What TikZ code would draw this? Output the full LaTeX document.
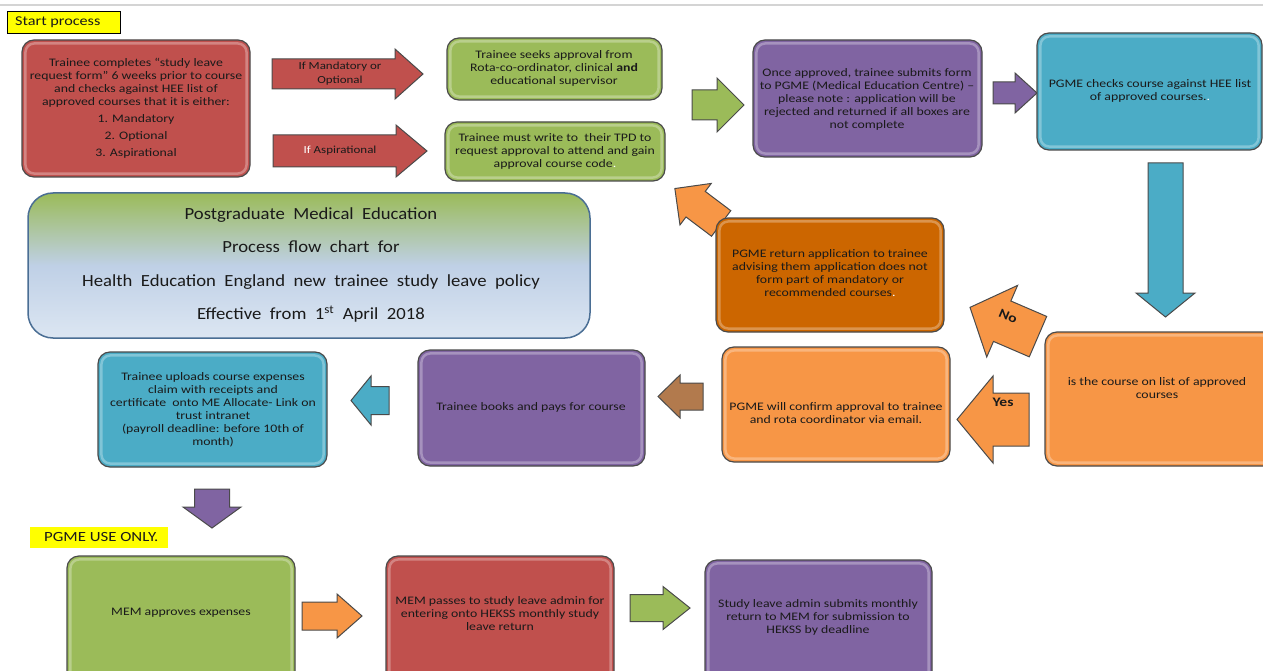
\documentclass[tikz,border=0pt]{standalone}
\usepackage{fontspec}
\setmainfont{Carlito}[FakeStretch=1.2]
\newfontfamily\titlefont{Carlito}[FakeStretch=1.1,WordSpace=2.0]
\definecolor{cRed}{HTML}{C0504D}
\definecolor{cGreen}{HTML}{9BBB59}
\definecolor{cPurple}{HTML}{8064A2}
\definecolor{cBlue}{HTML}{4BACC6}
\definecolor{cOrange}{HTML}{F79646}
\definecolor{cDark}{HTML}{CC6600}
\definecolor{cBrown}{HTML}{B27A4D}
\definecolor{cEdge}{HTML}{4A4A4A}
\definecolor{cTitleEdge}{HTML}{4A6E94}
\definecolor{cTitleMid}{HTML}{BFD0E6}
\definecolor{cTitleBot}{HTML}{DCE6F2}
\definecolor{cLine}{HTML}{D4D4D4}
\definecolor{cYellow}{HTML}{FFFF00}
\definecolor{cText}{HTML}{1A1A1A}
\newcommand{\blockarr}[8]{%
  \draw[arr, fill=#1, shift={(#2,#3)}, rotate=#4]
    (-#5/2,-#7/2) -- (#5/2-#8,-#7/2) -- (#5/2-#8,-#6/2) -- (#5/2,0)
    -- (#5/2-#8,#6/2) -- (#5/2-#8,#7/2) -- (-#5/2,#7/2) -- cycle;}
\newcommand{\mybox}[6]{%
  \node[box, fill=#2, minimum width=#5pt, minimum height=#6pt] (#1) at (#3,#4) {};
  \draw[hl] ([xshift=4pt,yshift=-4pt]#1.north west) rectangle ([xshift=-4pt,yshift=4pt]#1.south east);}
\tikzset{
  box/.style={draw=cEdge, line width=1.2pt, rounded corners=12pt, inner sep=0pt},
  hl/.style={draw=white, opacity=0.3, line width=2.5pt, rounded corners=9pt},
  arr/.style={draw=cEdge, line width=1pt, line join=miter},
  txt/.style={align=center, font=\fontsize{11.5}{13}\selectfont, text=cText, inner sep=0pt},
  lbl/.style={align=center, font=\fontsize{10.8}{14}\selectfont, text=cText, inner sep=0pt},
  yn/.style={font=\fontsize{13}{14}\selectfont\bfseries, text=cText, inner sep=0pt},
  tag/.style={fill=cYellow, inner sep=0pt}
}
\begin{document}
\begin{tikzpicture}[x=1pt,y=-1pt]
\useasboundingbox (0,0) rectangle (1263,671);
\clip (0,0) rectangle (1263,671);
\fill[white] (0,0) rectangle (1263,671);
\coordinate (la) at (0,5);
\coordinate (lb) at (1263,5);
\draw[cLine, line width=2pt] (la) -- (lb);

% labels
\node[tag, draw=black, line width=0.8pt, minimum width=113pt, minimum height=22pt] (start) at (63.5,22) {};
\node[font=\fontsize{13.5}{15}\selectfont, text=cText, anchor=west, inner sep=0pt] (startt) at (15,22) {Start process};
\node[tag, minimum width=138pt, minimum height=21pt] (use) at (99,537.5) {};
\node[font=\fontsize{14}{15}\selectfont, text=cText, anchor=west, inner sep=0pt] (uset) at (44,537) {PGME USE ONLY.};

% block arrows
\blockarr{cRed}{347.5}{74}{0}{151}{50}{30}{28}
\blockarr{cRed}{350}{151}{0}{154}{52}{32}{31}
\blockarr{cGreen}{718}{105}{0}{52}{54}{30}{27}
\blockarr{cPurple}{1015}{93}{0}{44}{40}{22}{22}
\blockarr{cBlue}{1165.5}{240}{-90}{154}{59}{35}{24}
\blockarr{cOrange}{698}{206}{143}{58}{52}{32}{26}
\blockarr{cOrange}{1004}{322}{156.7}{74}{78}{44}{35}
\blockarr{cOrange}{993}{419.5}{180}{72}{87}{53}{36}
\blockarr{cBrown}{680.5}{396.5}{180}{45}{43}{27}{22}
\blockarr{cBlue}{370}{400.5}{180}{38}{49}{28}{20}
\blockarr{cPurple}{212}{508.5}{-90}{39}{58}{35}{21}
\blockarr{cOrange}{332}{616}{0}{60}{44}{28}{25}
\blockarr{cGreen}{660}{608}{0}{60}{43}{27}{27}

\node[lbl] (a1) at (340,73.5) {If Mandatory or\\Optional};
\node[lbl] (a2) at (340,151) {\textcolor{white}{If} Aspirational};
\node[yn, rotate=-23] (no) at (1008,316) {No};
\node[yn] (yes) at (1003,402) {Yes};

% boxes
\mybox{r1}{cRed}{136}{108.5}{228}{137}
\mybox{g1}{cGreen}{554.5}{69}{215}{62}
\mybox{g2}{cGreen}{555}{151.5}{220}{59}
\mybox{p1}{cPurple}{867.5}{98.5}{229}{117}
\mybox{b1}{cBlue}{1149.5}{91.5}{225}{117}
\mybox{do}{cDark}{830}{275}{228}{114}
\mybox{o1}{cOrange}{1160}{399}{230}{134}
\mybox{o2}{cOrange}{836}{404.5}{228}{115}
\mybox{p2}{cPurple}{531.5}{408}{227}{116}
\mybox{b2}{cBlue}{212.5}{409.5}{229}{115}
\mybox{g3}{cGreen}{181}{623}{228}{134}
\mybox{r2}{cRed}{500}{623}{228}{134}
\mybox{p3}{cPurple}{818.5}{625}{227}{130}

\node[draw=cTitleEdge, line width=1.5pt, rounded corners=25pt, top color=cGreen, bottom color=cTitleBot, middle color=cTitleMid, minimum width=562pt, minimum height=145pt, inner sep=0pt] (title) at (309,265.5) {};

% texts
\node[txt] (r1t) at (136,108) {Trainee completes “study leave\\request form” 6 weeks prior to course\\and checks against HEE list of\\approved courses that it is either:\\[4pt]1. Mandatory\\[4pt]2. Optional\\[4pt]3. Aspirational};
\node[txt] (g1t) at (554,68) {Trainee seeks approval from\\Rota-co-ordinator, clinical \textbf{and}\\educational supervisor};
\node[txt] (g2t) at (555,151) {Trainee must write to\ \ their TPD to\\request approval to attend and gain\\approval course code\textcolor{white}{.}};
\node[txt] (p1t) at (867,99) {Once approved, trainee submits form\\to PGME (Medical Education Centre) –\\please note : application will be\\rejected and returned if all boxes are\\not complete};
\node[txt] (b1t) at (1150,91) {PGME checks course against HEE list\\of approved courses.\textcolor{white}{.}};
\node[txt] (dot) at (830,273) {PGME return application to trainee\\advising them application does not\\form part of mandatory or\\recommended courses\textcolor{white}{.}};
\node[txt] (o1t) at (1157,388) {is the course on list of approved\\courses};
\node[txt] (o2t) at (836,413) {PGME will confirm approval to trainee\\and rota coordinator via email.};
\node[txt] (p2t) at (531,407) {Trainee books and pays for course};
\node[txt] (b2t) at (213,410) {Trainee uploads course expenses\\claim with receipts and\\certificate\ \ onto ME Allocate- Link on\\trust intranet\\(payroll deadline: before 10th of\\month)};
\node[txt] (g3t) at (181,613) {MEM approves expenses};
\node[txt] (r2t) at (500,614) {MEM passes to study leave admin for\\entering onto HEKSS monthly study\\leave return};
\node[txt] (p3t) at (818,617) {Study leave admin submits monthly\\return to MEM for submission to\\HEKSS by deadline};
\node[align=center, inner sep=0pt, text=cText, font=\titlefont\fontsize{17}{33.5}\selectfont] (titlet) at (311,265) {Postgraduate Medical Education\\Process flow chart for\\Health Education England new trainee study leave policy\\Effective from 1\textsuperscript{st} April 2018};
\end{tikzpicture}
\end{document}
